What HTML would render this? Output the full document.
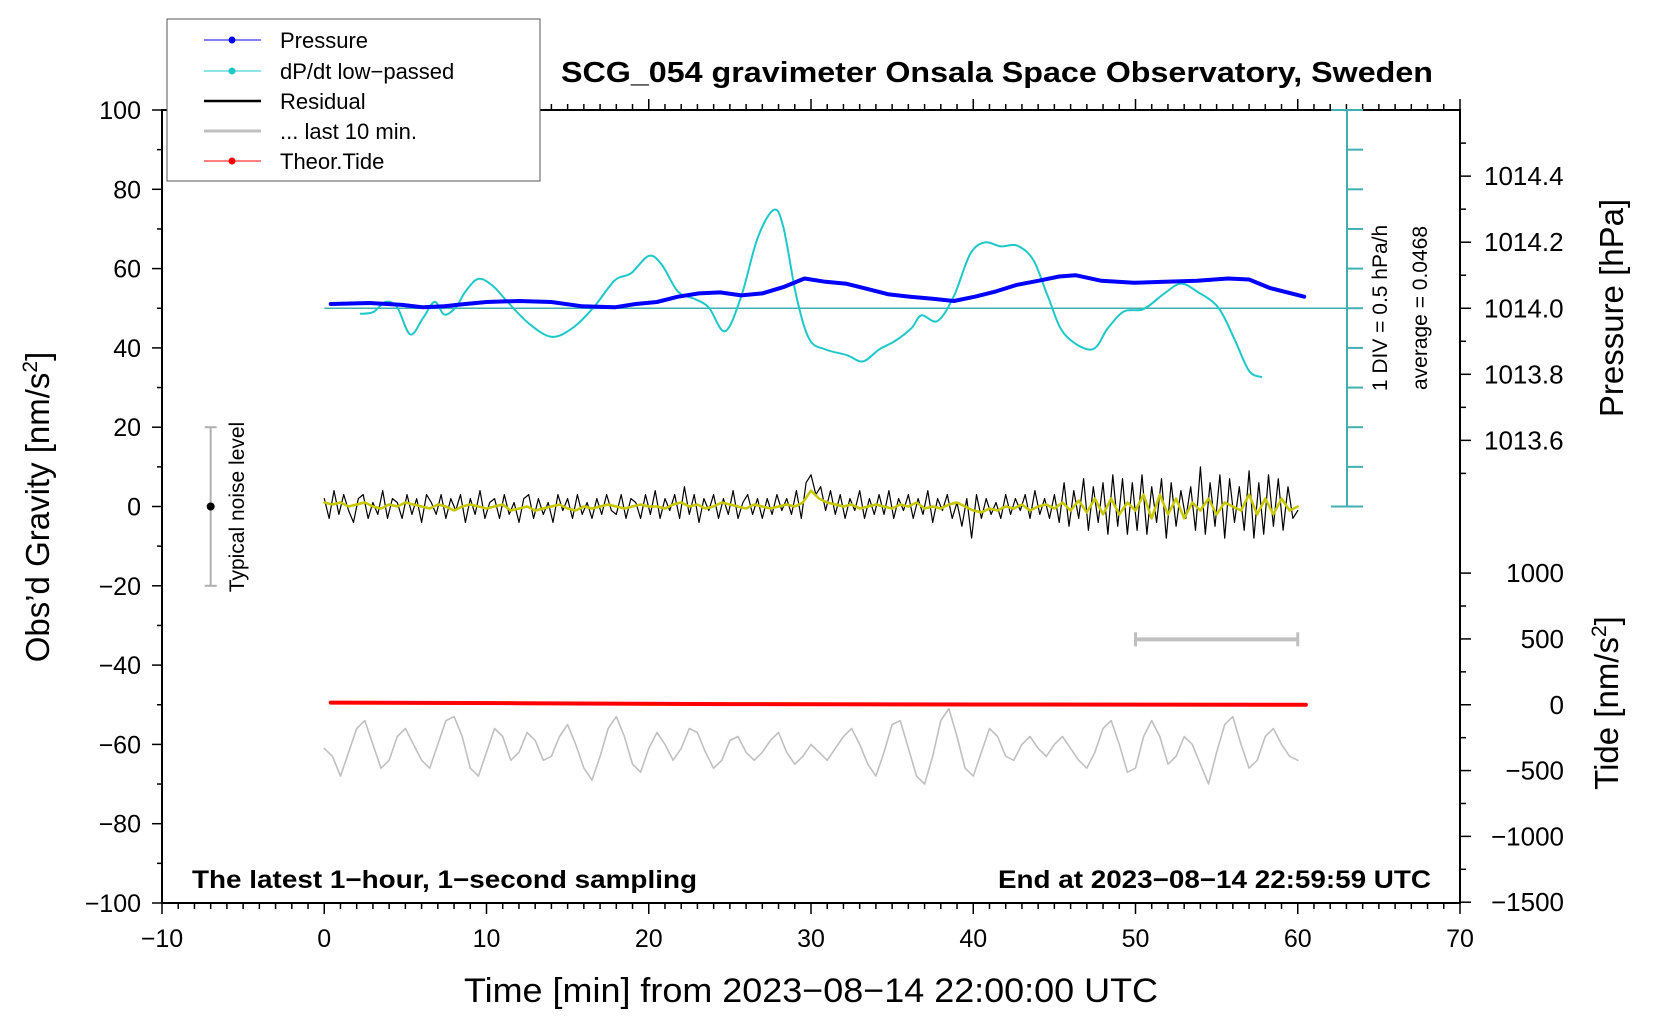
<!DOCTYPE html>
<html><head><meta charset="utf-8"><style>
html,body{margin:0;padding:0;background:#fff;}
svg{display:block;font-family:"Liberation Sans",sans-serif;}
</style></head><body>
<svg id="chart" width="1660" height="1020" viewBox="0 0 1660 1020" xmlns="http://www.w3.org/2000/svg">
<rect width="1660" height="1020" fill="#fff"/>
<g id="axes"></g>
<g id="marks"></g>
<g id="labels"></g>
</svg>
<script>
// ---- data ----
const pressT = [0.4,2.8,4.8,6.1,7.4,8.7,10.0,12.0,14.0,15.9,17.9,19.2,20.5,21.8,23.1,24.4,25.7,27.0,28.3,29.6,30.9,32.2,33.5,34.8,36.1,37.5,38.8,40.1,41.4,42.7,44.0,45.3,46.3,47.9,49.9,51.8,53.8,55.7,57.0,58.3,60.4];
const pressV = [1014.013,1014.016,1014.010,1014.003,1014.006,1014.013,1014.019,1014.022,1014.019,1014.006,1014.003,1014.013,1014.019,1014.035,1014.045,1014.048,1014.039,1014.045,1014.064,1014.090,1014.080,1014.074,1014.058,1014.042,1014.035,1014.029,1014.022,1014.035,1014.051,1014.071,1014.083,1014.096,1014.100,1014.083,1014.077,1014.080,1014.083,1014.090,1014.087,1014.061,1014.035];
const dpdtT = [2.2,3.0,3.8,4.5,5.3,6.1,6.8,7.4,8.1,8.7,9.5,10.4,11.3,12.6,14.0,15.3,16.6,17.9,18.9,20.0,20.8,21.8,22.8,23.7,24.7,25.7,26.7,27.7,28.3,29.1,29.9,30.9,32.2,33.2,34.2,35.2,36.2,36.8,37.8,38.8,39.8,40.7,41.7,42.7,43.7,44.6,45.6,47.3,48.3,49.3,50.5,51.8,52.8,53.8,55.1,56.1,57.0,57.8];
const dpdtV = [-0.07,-0.05,0.08,0.01,-0.33,-0.12,0.08,-0.08,0.01,0.21,0.37,0.28,0.08,-0.19,-0.36,-0.25,0.01,0.35,0.44,0.66,0.55,0.21,0.12,0.01,-0.29,0.15,0.88,1.24,1.02,0.15,-0.39,-0.52,-0.59,-0.67,-0.52,-0.41,-0.25,-0.09,-0.16,0.15,0.68,0.83,0.78,0.79,0.61,0.15,-0.32,-0.52,-0.25,-0.04,-0.01,0.19,0.31,0.21,0.01,-0.39,-0.79,-0.87];
const residual = [2,-3,4,-2,3,-1,-4,2,3,-3,1,-2,4,-3,2,1,-3,3,-2,2,-4,3,1,-2,3,-3,2,-1,3,-4,
2,-2,4,-3,1,2,-3,3,-2,1,-4,2,3,-3,2,-2,1,-4,3,-1,2,-3,3,-2,1,-3,2,-2,3,-1,
-2,3,-3,2,1,-3,3,-2,4,-3,2,-1,3,-3,5,-2,3,-4,2,-1,3,-3,2,-2,4,-3,1,3,-2,2,
-3,2,-2,3,-1,2,-2,4,-3,6,8,3,5,-1,4,-2,3,-3,2,-1,4,-3,2,-2,3,-2,4,-3,2,-1,
3,-3,2,-2,4,-4,2,-1,3,-3,1,-5,2,-8,3,-3,2,-2,1,-3,3,-2,2,-1,3,-3,4,-2,2,-3,
3,-4,6,-5,4,-3,7,-6,5,-4,6,-7,8,-5,7,-7,6,-6,8,-7,5,-4,7,-8,6,-5,4,-3,5,-6,
10,-7,6,-5,8,-8,7,-4,5,-6,9,-8,6,-7,8,-5,7,-6,5,-3,-1];
const smoothed = [1,0.5,1,0,0.5,1,0,-0.5,0.5,0,1,0.5,0,-0.5,0.5,0,-1,0,0.5,0,-0.5,
0,0.5,-1,-0.5,0,-1,-0.5,0,0.5,-0.5,-1,0,-0.5,0,0.5,0,-0.5,0,0.5,0,
0,-0.5,0.5,1,0,0.5,-0.5,0,1,0.5,0,-0.5,0.5,0,-0.5,0,0.5,0,1,4,
2,1,0.5,0,0.5,-0.5,0,0.5,0,-0.5,0.5,0,1,-0.5,0,-0.5,0.5,1,0,-1,
-1.5,-0.5,-1,0,-0.5,0.5,-1,0,0.5,-0.5,1,-1,1.5,-1.5,2,-2,2,-2,1,-1,
3,-3,3,-2,2,-3,1,-1,2,-2,1,0,-1,3,-2,2,-2,2,-1,0];
const last10 = [-61,-63,-68,-62,-56,-54,-60,-66,-64,-58,-56,-60,-64,-66,-60,-54,-53,-58,-66,-68,-62,-56,-58,-64,-62,-57,-59,-64,-63,-58,-55,-60,-66,-69,-63,-56,-53,-58,-65,-67,-61,-57,-60,-64,-61,-56,-57,-62,-66,-64,-59,-58,-62,-64,-62,-59,-57,-62,-65,-63,-60,-62,-64,-61,-58,-56,-60,-65,-68,-62,-55,-54,-61,-68,-70,-63,-54,-51,-58,-66,-68,-62,-56,-58,-63,-64,-60,-58,-61,-63,-60,-58,-61,-64,-66,-62,-56,-54,-60,-67,-66,-58,-54,-58,-65,-63,-58,-60,-65,-70,-62,-55,-53,-60,-66,-64,-58,-56,-60,-63,-64];
const tideT = [0.4,12,25,40,60.5];
const tideV = [16,12,5,2,0];
const xTicks = [-10,0,10,20,30,40,50,60,70];
const yTicks = [100,80,60,40,20,0,-20,-40,-60,-80,-100];
const pTicks = [1014.4,1014.2,1014.0,1013.8,1013.6];
const tTicks = [1000,500,0,-500,-1000,-1500];

// ---- scales ----
const L=162,R=1460,T=110,B=903;
const X = t => L + (t+10)*(R-L)/80;
const Y = g => T + (100-g)*(B-T)/200;
const YP = p => Y(50 + (p-1014)*83.3);
const YD = v => Y(50 + v*20);
const YT = v => Y(-50 + v*0.0332);
const NS="http://www.w3.org/2000/svg";
function mk(tag, attrs, parent, txt){const e=document.createElementNS(NS,tag);for(const k in attrs)e.setAttribute(k,attrs[k]);if(txt!==undefined)e.textContent=txt;parent.appendChild(e);return e;}
const axes=document.getElementById('axes'), marks=document.getElementById('marks'), labels=document.getElementById('labels');

let fr=mk('rect',{x:L,y:T,width:R-L,height:B-T,fill:'none',stroke:'#000','stroke-width':2},axes);


for(let t=-10;t<=70;t++){
  const maj=t%10===0, len=maj?11:6;
  mk('line',{x1:X(t),x2:X(t),y1:B,y2:B+len,stroke:'#000','stroke-width':1.5},axes);
  if(X(t)>545) mk('line',{x1:X(t),x2:X(t),y1:T,y2:T-len,stroke:'#000','stroke-width':1.5},axes);
}
xTicks.forEach(t=>{const e=mk('text',{x:X(t),y:947,'text-anchor':'middle','font-size':25},labels,t<0?'\u2212'+(-t):String(t));

});
for(let g=-100;g<=100;g+=10){const maj=g%20===0;mk('line',{x1:L,x2:L-(maj?10:5),y1:Y(g),y2:Y(g),stroke:'#000','stroke-width':1.5},axes);}
yTicks.forEach(g=>{const e=mk('text',{x:141,y:Y(g)+9,'text-anchor':'end','font-size':25},labels,g<0?'\u2212'+(-g):String(g));

});
for(let i=0;i<=10;i++){const p=1013.5+i*0.1;const y=YP(p);if(y<T||y>B)continue;const maj=i%2===1;mk('line',{x1:R,x2:R+(maj?11:6),y1:y,y2:y,stroke:'#000','stroke-width':1.5},axes);}
pTicks.forEach(p=>{const e=mk('text',{x:1484,y:YP(p)+9,'font-size':26},labels,p.toFixed(1));

});
for(let v=-1500;v<=1000;v+=250){const maj=v%500===0;mk('line',{x1:R,x2:R+(maj?11:6),y1:YT(v),y2:YT(v),stroke:'#000','stroke-width':1.5},axes);}
tTicks.forEach(v=>{const e=mk('text',{x:1564,y:YT(v)+9,'text-anchor':'end','font-size':26},labels,v<0?'\u2212'+(-v):String(v));

});

const sx=1347;
mk('line',{x1:sx,x2:sx,y1:Y(100),y2:Y(0),stroke:'#40b0b0','stroke-width':2},axes);
for(let g=0;g<=100;g+=10){const cap=(g===0||g===100);mk('line',{x1:cap?sx-16:sx,x2:sx+16,y1:Y(g),y2:Y(g),stroke:'#40b0b0','stroke-width':2},axes);}
let zl=mk('line',{x1:X(0),x2:sx+16,y1:Y(50),y2:Y(50),stroke:'#40b0b0','stroke-width':1.5},axes);



function poly(xs,ys,st,w,name){let d='';for(let i=0;i<xs.length;i++)d+=(i?'L':'M')+xs[i].toFixed(1)+','+ys[i].toFixed(1);const e=mk('path',{d:d,fill:'none',stroke:st,'stroke-width':w,'stroke-linejoin':'round','stroke-linecap':'round'},marks);

return e;}
function smooth(xs,ys,st,w,name){let d='M'+xs[0]+','+ys[0];for(let i=0;i<xs.length-1;i++){const x0=xs[Math.max(i-1,0)],y0=ys[Math.max(i-1,0)],x1=xs[i],y1=ys[i],x2=xs[i+1],y2=ys[i+1],x3=xs[Math.min(i+2,xs.length-1)],y3=ys[Math.min(i+2,xs.length-1)];d+=`C${x1+(x2-x0)/6},${y1+(y2-y0)/6} ${x2-(x3-x1)/6},${y2-(y3-y1)/6} ${x2},${y2}`;}
const e=mk('path',{d:d,fill:'none',stroke:st,'stroke-width':w},marks);

return e;}

smooth(dpdtT.map(X),dpdtV.map(YD),'#1fc8c8',2,'dpdt-line');
poly(pressT.map(X),pressV.map(YP),'#0000ff',4,'pressure-line');
poly(residual.map((v,i)=>X(i*60/(residual.length-1))),residual.map(Y),'#000',1.2,'residual-line');
poly(smoothed.map((v,i)=>X(i*60/(smoothed.length-1))),smoothed.map(Y),'#c8c800',2.5,'residual-smoothed-line');
poly(last10.map((v,i)=>X(i*60/(last10.length-1))),last10.map(Y),'#c0c0c0',1.6,'last-10-min-line');
poly(tideT.map(X),tideV.map(YT),'#ff0000',4,'theoretical-tide-line');
const by=Y(-33.5);
mk('line',{x1:X(50),x2:X(60),y1:by,y2:by,stroke:'#c0c0c0','stroke-width':4},marks);
mk('line',{x1:X(50),x2:X(50),y1:by-7,y2:by+7,stroke:'#c0c0c0','stroke-width':3},marks);
mk('line',{x1:X(60),x2:X(60),y1:by-7,y2:by+7,stroke:'#c0c0c0','stroke-width':3},marks);
const nx=X(-7);
mk('line',{x1:nx,x2:nx,y1:Y(20),y2:Y(-20),stroke:'#b0b0b0','stroke-width':2},marks);
mk('line',{x1:nx-6,x2:nx+6,y1:Y(20),y2:Y(20),stroke:'#b0b0b0','stroke-width':2},marks);
mk('line',{x1:nx-6,x2:nx+6,y1:Y(-20),y2:Y(-20),stroke:'#b0b0b0','stroke-width':2},marks);
mk('circle',{cx:nx,cy:Y(0),r:4,fill:'#000'},marks);
</script>
<svg style="position:absolute;left:0;top:0" width="1660" height="1020" xmlns="http://www.w3.org/2000/svg" font-family="Liberation Sans, sans-serif">
<g>
<rect x="167" y="19" width="373" height="162" fill="#fff" stroke="#555" stroke-width="1"/>
<line x1="204" y1="40" x2="261" y2="40" stroke="#0000ff" stroke-width="1"/><circle cx="232" cy="40" r="3.5" fill="#0000ff"/>
<text x="280" y="48" font-size="22">Pressure</text>
<line x1="204" y1="71" x2="261" y2="71" stroke="#1fc8c8" stroke-width="1"/><circle cx="232" cy="71" r="3.5" fill="#1fc8c8"/>
<text x="280" y="79" font-size="22">dP/dt low−passed</text>
<line x1="204" y1="101" x2="261" y2="101" stroke="#000" stroke-width="2.5"/>
<text x="280" y="109" font-size="22">Residual</text>
<line x1="204" y1="131" x2="261" y2="131" stroke="#c0c0c0" stroke-width="3"/>
<text x="280" y="139" font-size="22">... last 10 min.</text>
<line x1="204" y1="161" x2="261" y2="161" stroke="#ff0000" stroke-width="1"/><circle cx="232" cy="161" r="3.5" fill="#ff0000"/>
<text x="280" y="169" font-size="22">Theor.Tide</text>
</g>
<text x="561" y="82" font-size="29" font-weight="bold" textLength="872" lengthAdjust="spacingAndGlyphs">SCG_054 gravimeter Onsala Space Observatory, Sweden</text>
<text x="192" y="888" font-size="25" font-weight="bold" textLength="505" lengthAdjust="spacingAndGlyphs">The latest 1−hour, 1−second sampling</text>
<text x="998" y="888" font-size="25" font-weight="bold" textLength="433" lengthAdjust="spacingAndGlyphs">End at 2023−08−14 22:59:59 UTC</text>
<text x="464" y="1002" font-size="34" textLength="694" lengthAdjust="spacingAndGlyphs">Time [min] from 2023−08−14 22:00:00 UTC</text>
<text transform="translate(49,507) rotate(-90)" text-anchor="middle" font-size="33">Obs’d Gravity [nm/s<tspan font-size="21" dy="-12">2</tspan><tspan dy="12">]</tspan></text>
<text transform="translate(1623,308) rotate(-90)" text-anchor="middle" font-size="33">Pressure [hPa]</text>
<text transform="translate(1618,703) rotate(-90)" text-anchor="middle" font-size="33">Tide [nm/s<tspan font-size="21" dy="-12">2</tspan><tspan dy="12">]</tspan></text>
<text transform="translate(1387,308) rotate(-90)" text-anchor="middle" font-size="21">1 DIV = 0.5 hPa/h</text>
<text transform="translate(1427,308) rotate(-90)" text-anchor="middle" font-size="21">average = 0.0468</text>
<text transform="translate(244,507) rotate(-90)" text-anchor="middle" font-size="21">Typical noise level</text>
</svg>
</body></html>
